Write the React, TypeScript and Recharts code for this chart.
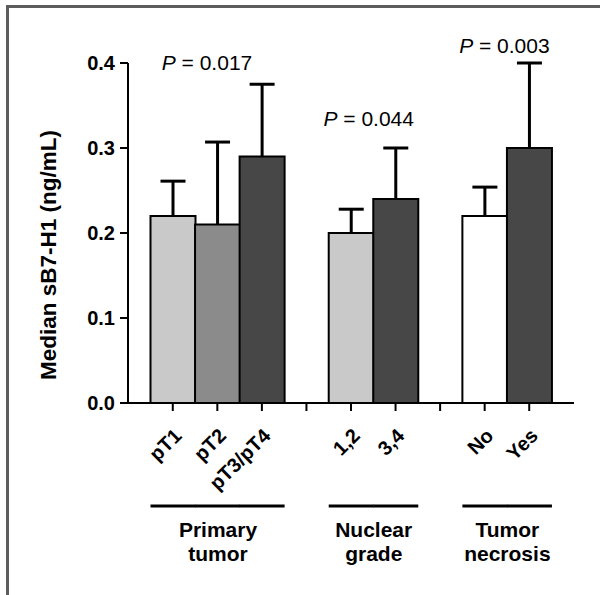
import { BarChart, Bar, XAxis, YAxis } from 'recharts';

// categories, with two empty slots that separate the three groups
const categories = ['pT1', 'pT2', 'pT3/pT4', '', '1,2', '3,4', ' ', 'No', 'Yes'];
const medians = [0.22, 0.21, 0.29, null, 0.2, 0.24, null, 0.22, 0.3];
const upperErrors = [0.041, 0.097, 0.085, null, 0.028, 0.06, null, 0.034, 0.1];

const groupMembers = [
  ['pT1', 'pT2', 'pT3/pT4'],
  ['1,2', '3,4'],
  ['No', 'Yes'],
];
const groupNames = [
  ['Primary', 'tumor'],
  ['Nuclear', 'grade'],
  ['Tumor', 'necrosis'],
];
const pValues = ['0.017', '0.044', '0.003'];
const pLevels = [0.392, 0.326, 0.412];

const yTicks = [0, 0.1, 0.2, 0.3, 0.4];

const FONT = 'Arial, "Liberation Sans", Helvetica, sans-serif';
const FILLS: Record<string, string> = {
  pT1: '#c9c9c9',
  pT2: '#8b8b8b',
  'pT3/pT4': '#474747',
  '1,2': '#c9c9c9',
  '3,4': '#474747',
  No: '#ffffff',
  Yes: '#474747',
};
const P_SHIFT = [-11, -5, -3];

const data = categories.map((name, i) => ({
  name,
  median: medians[i],
  upper: upperErrors[i],
}));

// bar + its one-sided error whisker + group decorations, all from the bar's scaled geometry
function BarShape(props: any) {
  const { x, y, width, height, payload } = props;
  if (payload == null || payload.median == null) return null;
  const cat = payload.name;
  const g = groupMembers.findIndex((m) => m.includes(cat));
  const members = groupMembers[g];
  const pos = members.indexOf(cat);
  const bottom = y + height;
  const perUnit = height / payload.median;
  const mid = x + width / 2;
  const whiskerTop = y - payload.upper * perUnit;
  const cx = x + (width * members.length) / 2;

  return (
    <g>
      <rect x={x} y={y} width={width} height={height} fill={FILLS[cat]} stroke="#000" strokeWidth={2} />
      <line x1={mid} x2={mid} y1={y} y2={whiskerTop} stroke="#000" strokeWidth={3} />
      <line x1={mid - 12.5} x2={mid + 12.5} y1={whiskerTop} y2={whiskerTop} stroke="#000" strokeWidth={3} />
      <line x1={x} x2={x + width} y1={bottom + 103} y2={bottom + 103} stroke="#000" strokeWidth={3} />
      {pos === 0 && (
        <g fontFamily={FONT}>
          <text x={cx} y={bottom + 134} textAnchor="middle" fontSize={21} fontWeight="bold" fill="#000">
            {groupNames[g][0]}
          </text>
          <text x={cx} y={bottom + 158} textAnchor="middle" fontSize={21} fontWeight="bold" fill="#000">
            {groupNames[g][1]}
          </text>
          <text
            x={cx + P_SHIFT[g]}
            y={bottom - pLevels[g] * perUnit}
            textAnchor="middle"
            fontSize={21}
            fill="#000"
          >
            <tspan fontStyle="italic">P</tspan> = {pValues[g]}
          </text>
        </g>
      )}
    </g>
  );
}

function XTick(props: any) {
  const { x, y, payload } = props;
  const tx = x + 10;
  const ty = y + 24;
  return (
    <text
      x={tx}
      y={ty}
      transform={`rotate(-45, ${tx}, ${ty})`}
      textAnchor="end"
      fontFamily={FONT}
      fontSize={20}
      fontWeight="bold"
      fill="#000"
    >
      {payload.value}
    </text>
  );
}

function YTitle(props: any) {
  const vb = props.viewBox || {};
  const cx = (vb.x ?? 0) + 48;
  const cy = (vb.y ?? 0) + (vb.height ?? 0) / 2 + 22;
  return (
    <text
      x={cx}
      y={cy}
      transform={`rotate(-90, ${cx}, ${cy})`}
      textAnchor="middle"
      dominantBaseline="central"
      fontFamily={FONT}
      fontSize={22.5}
      fontWeight="bold"
      fill="#000"
    >
      Median sB7-H1 (ng/mL)
    </text>
  );
}

export default function App() {
  return (
    <div
      style={{
        position: 'absolute',
        left: 0,
        top: 0,
        width: 600,
        height: 595,
        background: '#fff',
        overflow: 'hidden',
      }}
    >
      <div
        style={{
          position: 'absolute',
          left: 6,
          top: 5,
          width: 700,
          height: 700,
          borderLeft: '3px solid #5c5c5c',
          borderTop: '3px solid #5c5c5c',
        }}
      />
      <div style={{ position: 'absolute', left: 0, top: 0 }}>
        <BarChart
          width={600}
          height={595}
          data={data}
          margin={{ top: 63, right: 26, bottom: 0, left: 0 }}
          barCategoryGap={0}
        >
          <XAxis
            dataKey="name"
            height={192}
            padding={{ left: 22.5, right: 22.5 }}
            interval={0}
            tick={<XTick />}
            tickSize={8}
            tickLine={{ stroke: '#000', strokeWidth: 2 }}
            axisLine={{ stroke: '#000', strokeWidth: 2 }}
          />
          <YAxis
            width={128}
            domain={[0, 0.4]}
            ticks={yTicks}
            tickFormatter={(v: number) => v.toFixed(1)}
            tickSize={8}
            tickMargin={5}
            tick={{ fill: '#000', fontSize: 20, fontWeight: 'bold', fontFamily: FONT }}
            tickLine={{ stroke: '#000', strokeWidth: 2 }}
            axisLine={{ stroke: '#000', strokeWidth: 2 }}
            label={<YTitle />}
          />
          <Bar dataKey="median" shape={<BarShape />} isAnimationActive={false} />
        </BarChart>
      </div>
    </div>
  );
}
